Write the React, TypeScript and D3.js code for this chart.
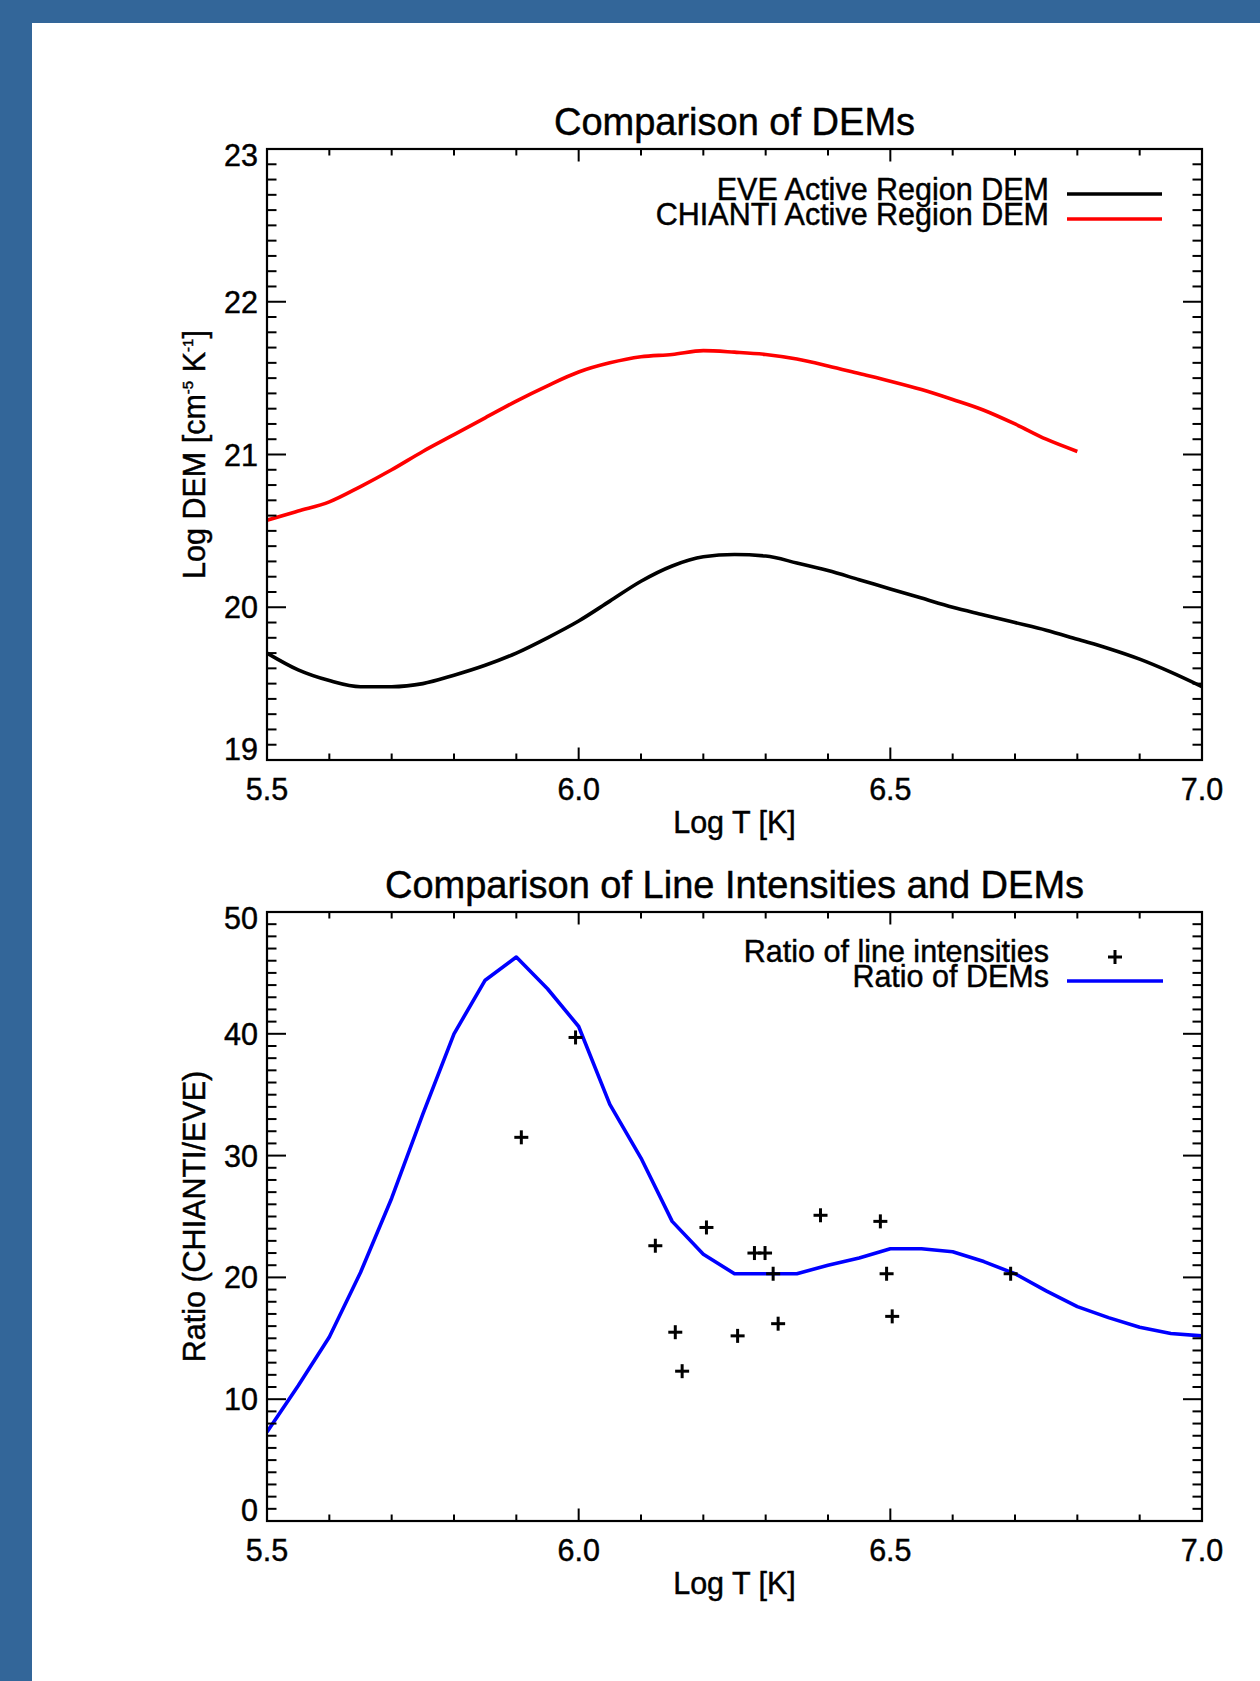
import React from 'react';
import * as d3 from 'd3';

// ---------- DATA ----------
const logT = [5.50, 5.55, 5.60, 5.65, 5.70, 5.75, 5.80, 5.85, 5.90, 5.95, 6.00, 6.05, 6.10, 6.15, 6.20, 6.25,
  6.30, 6.35, 6.40, 6.45, 6.50, 6.55, 6.60, 6.65, 6.70, 6.75, 6.80, 6.85, 6.90, 6.95, 7.00];

const eveDEM = [19.70, 19.59, 19.52, 19.48, 19.48, 19.50, 19.555, 19.62, 19.70, 19.80, 19.91, 20.04, 20.17, 20.27,
  20.33, 20.345, 20.335, 20.29, 20.24, 20.18, 20.12, 20.06, 20.00, 19.95, 19.90, 19.85, 19.79, 19.73, 19.66, 19.575, 19.48];

const chiantiT = [5.50, 5.55, 5.60, 5.65, 5.70, 5.75, 5.80, 5.85, 5.90, 5.95, 6.00, 6.05, 6.10, 6.15, 6.20, 6.25,
  6.30, 6.35, 6.40, 6.45, 6.50, 6.55, 6.60, 6.65, 6.70, 6.75, 6.80];
const chiantiDEM = [20.57, 20.63, 20.69, 20.79, 20.90, 21.02, 21.13, 21.24, 21.35, 21.45, 21.54, 21.60, 21.64, 21.655,
  21.68, 21.67, 21.655, 21.625, 21.58, 21.53, 21.48, 21.425, 21.36, 21.29, 21.20, 21.10, 21.02];

const ratioDEM = [7.3, 11.1, 15.1, 20.4, 26.5, 33.4, 40.0, 44.4, 46.3, 43.7, 40.6, 34.2, 29.8, 24.6, 21.9, 20.3,
  20.3, 20.3, 21.0, 21.6, 22.35, 22.35, 22.1, 21.3, 20.3, 18.9, 17.6, 16.7, 15.9, 15.4, 15.2];

const lineT = [5.908, 5.995, 6.123, 6.205, 6.155, 6.166, 6.255, 6.282, 6.299, 6.312, 6.32, 6.388, 6.484, 6.494, 6.503, 6.693];
const lineRatio = [31.5, 39.7, 22.6, 24.1, 15.5, 12.3, 15.2, 22.0, 22.0, 20.3, 16.2, 25.1, 24.6, 20.3, 16.8, 20.3];

const xMajorTicks = [5.5, 6.0, 6.5, 7.0];
const xTickLabels = ['5.5', '6.0', '6.5', '7.0'];
const demTicks = [19, 20, 21, 22, 23];
const ratioTicks = [0, 10, 20, 30, 40, 50];

// ---------- LAYOUT ----------
const W = 1260;
const H = 1681;
const FONT = "'Liberation Sans', Arial, Helvetica, sans-serif";
const BG = '#336699';
const LEFT = 267;
const RIGHT = 1202;
const TOP1 = 149;
const BOT1 = 760;
const TOP2 = 912;
const BOT2 = 1521;
const LABEL_FS = 30.5;
const TITLE_FS = 38;
const TXT_STROKE = 0.45;

const xScale = d3.scaleLinear().domain([5.5, 7.0]).range([LEFT, RIGHT]);

type PanelProps = {
  top: number;
  bottom: number;
  yDomain: [number, number];
  yTicks: number[];
  yMinorStep: number;
  title: string;
  yLabel: React.ReactNode;
  children: (y: d3.ScaleLinear<number, number>) => React.ReactNode;
};

function Panel({ top, bottom, yDomain, yTicks, yMinorStep, title, yLabel, children }: PanelProps) {
  const y = d3.scaleLinear().domain(yDomain).range([bottom, top]);
  const xMinor = d3.range(0, 16).map((i) => Math.round((5.5 + i * 0.1) * 100) / 100);
  const nMinorY = Math.round((yDomain[1] - yDomain[0]) / yMinorStep);
  const yMinor = d3.range(0, nMinorY + 1).map((i) => yDomain[0] + i * yMinorStep);
  const isMajorX = (v: number) => xMajorTicks.some((m) => Math.abs(m - v) < 1e-6);
  const isMajorY = (v: number) => yTicks.some((m) => Math.abs(m - v) < 1e-6);
  const xMaj = 12.5, xMin = 6.5, yMaj = 19, yMin = 9.5;
  const mid = (top + bottom) / 2;
  return (
    <g>
      <defs>
        <clipPath id={`clip-${top}`}>
          <rect x={LEFT} y={top} width={RIGHT - LEFT} height={bottom - top} />
        </clipPath>
      </defs>
      <g clipPath={`url(#clip-${top})`}>{children(y)}</g>
      {/* x ticks */}
      {xMinor.map((v, i) => {
        const len = isMajorX(v) ? xMaj : xMin;
        const px = xScale(v);
        return (
          <g key={`xt${i}`} stroke="#000" strokeWidth={2}>
            <line x1={px} x2={px} y1={bottom} y2={bottom - len} />
            <line x1={px} x2={px} y1={top} y2={top + len} />
          </g>
        );
      })}
      {/* y ticks */}
      {yMinor.map((v, i) => {
        const len = isMajorY(v) ? yMaj : yMin;
        const py = y(v);
        return (
          <g key={`yt${i}`} stroke="#000" strokeWidth={2}>
            <line x1={LEFT} x2={LEFT + len} y1={py} y2={py} />
            <line x1={RIGHT} x2={RIGHT - len} y1={py} y2={py} />
          </g>
        );
      })}
      <rect x={LEFT} y={top} width={RIGHT - LEFT} height={bottom - top} fill="none" stroke="#000" strokeWidth={2.2} />
      <g fontFamily={FONT} fill="#000" stroke="#000" strokeWidth={TXT_STROKE}>
        {/* x tick labels */}
        {xMajorTicks.map((v, i) => (
          <text key={`xl${i}`} x={xScale(v)} y={bottom + 40} textAnchor="middle" fontSize={LABEL_FS}>
            {xTickLabels[i]}
          </text>
        ))}
        {/* y tick labels */}
        {yTicks.map((v, i) => {
          let off = 11;
          if (i === 0) off -= 11;
          if (i === yTicks.length - 1) off += 6;
          return (
            <text key={`yl${i}`} x={258} y={y(v) + off} textAnchor="end" fontSize={LABEL_FS}>
              {String(v)}
            </text>
          );
        })}
        <text x={(LEFT + RIGHT) / 2} y={top - 14} textAnchor="middle" fontSize={TITLE_FS}>
          {title}
        </text>
        <text x={(LEFT + RIGHT) / 2} y={bottom + 73} textAnchor="middle" fontSize={LABEL_FS}>
          Log T [K]
        </text>
        <text transform={`translate(205,${mid}) rotate(-90)`} textAnchor="middle" fontSize={LABEL_FS}>
          {yLabel}
        </text>
      </g>
    </g>
  );
}

export default function App() {
  const lineGen = (ys: number[], xs: number[], y: d3.ScaleLinear<number, number>) =>
    d3.line<number>().x((_, i) => xScale(xs[i])).y((d) => y(d)).curve(d3.curveMonotoneX)(ys) || '';

  return (
    <svg width={W} height={H} viewBox={`0 0 ${W} ${H}`} style={{ position: 'absolute', left: 0, top: 0, display: 'block' }}>
      <rect x={0} y={0} width={W} height={H} fill={BG} />
      <rect x={32} y={23} width={W - 32} height={H - 23} fill="#fff" />

      <Panel
        top={TOP1}
        bottom={BOT1}
        yDomain={[19, 23]}
        yTicks={demTicks}
        yMinorStep={0.1}
        title="Comparison of DEMs"
        yLabel={
          <>
            Log DEM [cm
            <tspan fontSize={15} dy={-12}>-5</tspan>
            <tspan dy={12}> K</tspan>
            <tspan fontSize={15} dy={-12}>-1</tspan>
            <tspan dy={12}>]</tspan>
          </>
        }
      >
        {(y) => (
          <>
            <path d={lineGen(chiantiDEM, chiantiT, y)} fill="none" stroke="#ff0000" strokeWidth={3.6} strokeLinejoin="round" />
            <path d={lineGen(eveDEM, logT, y)} fill="none" stroke="#000" strokeWidth={3.6} strokeLinejoin="round" />
          </>
        )}
      </Panel>

      {/* legend top */}
      <g fontFamily={FONT} fontSize={LABEL_FS} fill="#000" stroke="#000" strokeWidth={TXT_STROKE}>
        <text x={1049} y={200} textAnchor="end">EVE Active Region DEM</text>
        <text x={1049} y={225} textAnchor="end">CHIANTI Active Region DEM</text>
      </g>
      <line x1={1067} x2={1162} y1={194} y2={194} stroke="#000" strokeWidth={3.6} />
      <line x1={1067} x2={1162} y1={219} y2={219} stroke="#ff0000" strokeWidth={3.6} />

      <Panel
        top={TOP2}
        bottom={BOT2}
        yDomain={[0, 50]}
        yTicks={ratioTicks}
        yMinorStep={1}
        title="Comparison of Line Intensities and DEMs"
        yLabel={<>Ratio (CHIANTI/EVE)</>}
      >
        {(y) => (
          <>
            <path d={d3.line<number>().x((_, i) => xScale(logT[i])).y((d) => y(d))(ratioDEM) || ''} fill="none" stroke="#0000ff" strokeWidth={3.6} strokeLinejoin="round" />
            {lineT.map((t, i) => {
              const px = xScale(t);
              const py = y(lineRatio[i]);
              return (
                <g key={`p${i}`} stroke="#000" strokeWidth={3}>
                  <line x1={px - 7} x2={px + 7} y1={py} y2={py} />
                  <line x1={px} x2={px} y1={py - 7} y2={py + 7} />
                </g>
              );
            })}
          </>
        )}
      </Panel>

      {/* legend bottom */}
      <g fontFamily={FONT} fontSize={LABEL_FS} fill="#000" stroke="#000" strokeWidth={TXT_STROKE}>
        <text x={1049} y={962} textAnchor="end">Ratio of line intensities</text>
        <text x={1049} y={987} textAnchor="end">Ratio of DEMs</text>
      </g>
      <g stroke="#000" strokeWidth={3}>
        <line x1={1108} x2={1122} y1={957} y2={957} />
        <line x1={1115} x2={1115} y1={950} y2={964} />
      </g>
      <line x1={1067} x2={1163} y1={981} y2={981} stroke="#0000ff" strokeWidth={3.6} />
    </svg>
  );
}
